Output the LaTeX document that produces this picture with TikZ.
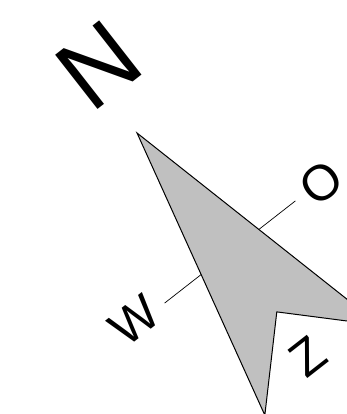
\documentclass[tikz,border=0pt]{standalone}
\usepackage{fontspec}
\setmainfont{Liberation Sans}
\usetikzlibrary{positioning}
\usetikzlibrary{backgrounds}
\pgfdeclarelayer{edgelayer}
\pgfdeclarelayer{nodelayer}
\pgfsetlayers{background,edgelayer,nodelayer,main}
\tikzstyle{letter}=[inner sep=0pt,rotate=38,font=\fontsize{50}{50}\selectfont]
\tikzstyle{big letter}=[letter,font=\fontsize{100}{100}\selectfont]
\tikzstyle{needle}=[draw=black,fill={rgb,255:red,192;green,192;blue,192},line width=1pt]
\tikzstyle{axis}=[draw=black,line width=0.7pt]

\begin{document}
\begin{tikzpicture}[x=1pt,y=1pt]
	\useasboundingbox (0,0) rectangle (346,414);
	\begin{scope}[shift={(230,162)},rotate=38]
	\begin{pgfonlayer}{nodelayer}
		\node [style=big letter] (n) at (12, 228) {N};
		\node [style=letter] (o) at (114, -1.5) {O};
		\node [style=letter] (z) at (-3, -130) {Z};
		\node [style=letter] (w) at (-117, 5) {W};
	\end{pgfonlayer}
		\coordinate (west) at (-83, 0);
		\coordinate (east) at (83, 0);
		\coordinate (tip) at (0, 151);
		\coordinate (tail r) at (73, -150);
		\coordinate (notch) at (0, -76);
		\coordinate (tail l) at (-73, -150);
	\begin{pgfonlayer}{edgelayer}
		\draw [style=axis] (west) to (east);
		\draw [style=needle] (tip) -- (tail r) -- (notch) -- (tail l) -- cycle;
	\end{pgfonlayer}
	\end{scope}
\end{tikzpicture}
\end{document}
